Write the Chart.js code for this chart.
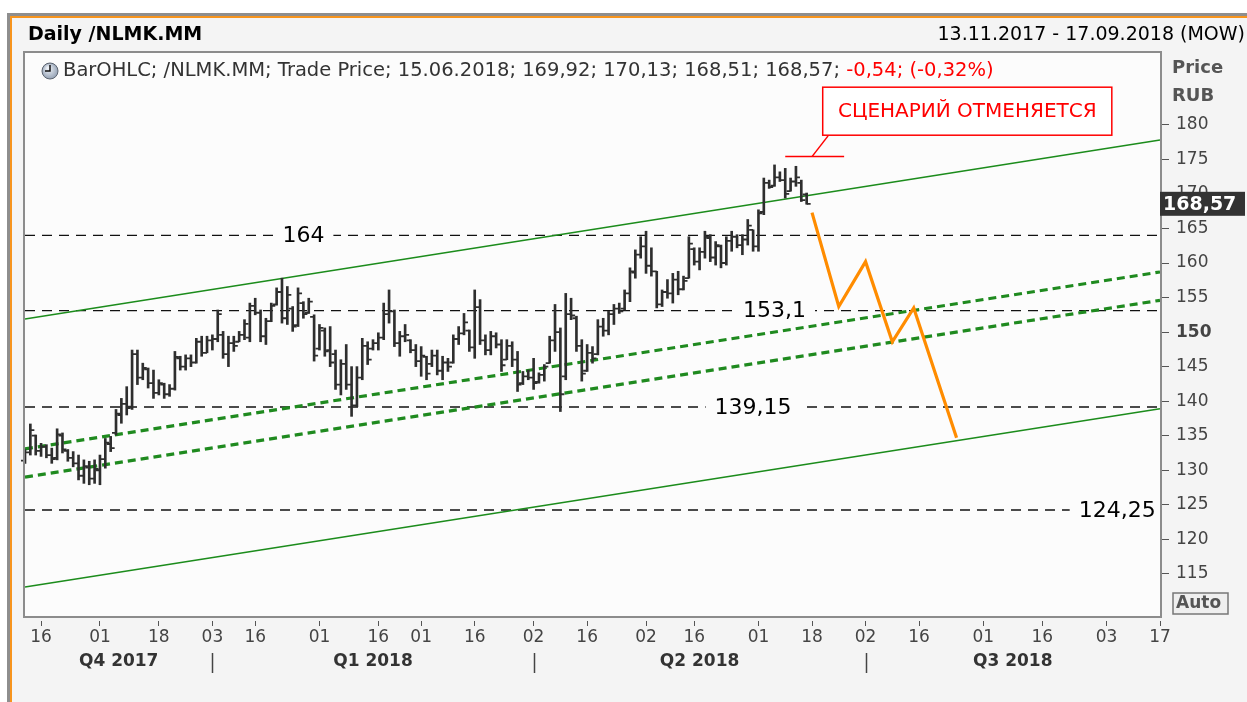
<!DOCTYPE html>
<html>
<head>
<meta charset="utf-8">
<title>Daily /NLMK.MM</title>
<script src="https://cdn.jsdelivr.net/npm/chart.js@4.4.1/dist/chart.umd.min.js"></script>
<style>
  html, body { margin: 0; padding: 0; background: #fff; }
  #wrap { width: 1247px; height: 702px; }
</style>
</head>
<body>
<div id="wrap"><canvas id="chart" width="1247" height="702"></canvas></div>
<script>
const FONT = "'DejaVu Sans', Verdana, sans-serif";

// MOEX trading days shown on the axis
const firstDay = "2017-11-13";
const lastDay = "2018-09-17";
const holidays = ["2018-01-01", "2018-01-02", "2018-01-08", "2018-02-23", "2018-03-08", "2018-05-01", "2018-05-09", "2018-06-12"];

const days = [];
for (let d = new Date(firstDay + "T00:00:00Z"); d <= new Date(lastDay + "T00:00:00Z"); d.setUTCDate(d.getUTCDate() + 1)) {
	const s = d.toISOString().slice(0, 10);
	const wd = d.getUTCDay();
	if (wd !== 0 && wd !== 6 && !holidays.includes(s)) days.push(s);
}

// daily bars from 13.11.2017 to 15.06.2018
const barOpen = [
	131.4, 132.6, 135.0, 132.8, 133.4, 132.2, 131.8, 135.0, 132.8, 131.8,
	131.0, 129.2, 130.4, 128.8, 130.0, 131.6, 133.8, 135.4, 138.0, 139.6,
	139.2, 146.8, 143.4, 144.6, 142.6, 141.2, 142.4, 141.0, 141.8, 146.2,
	145.0, 146.2, 145.6, 148.6, 147.0, 148.8, 149.0, 149.6, 146.8, 148.4,
	148.6, 149.6, 149.2, 153.8, 152.8, 149.4, 151.6, 154.0, 155.8, 152.0,
	153.4, 151.0, 154.2, 152.8, 152.2, 147.6, 150.2, 147.4, 146.8, 142.4,
	145.4, 142.4, 139.4, 143.4, 148.0, 147.6, 148.4, 149.2, 152.6, 153.0,
	148.4, 149.4, 148.8, 147.4, 145.8, 146.4, 145.4, 146.6, 144.4, 145.6,
	145.6, 149.0, 149.8, 150.2, 147.8, 153.6, 148.8, 147.4, 149.4, 148.2,
	146.0, 148.0, 146.0, 142.6, 143.6, 143.4, 142.8, 143.8, 145.5, 148.8,
	150.0, 143.6, 152.6, 152.0, 148.0, 144.4, 147.0, 146.8, 150.8, 150.2,
	152.6, 153.4, 153.4, 155.6, 158.6, 161.2, 162.4, 159.6, 158.8, 154.0,
	155.8, 155.6, 157.6, 156.2, 157.8, 162.0, 160.2, 161.6, 163.6, 160.8,
	162.4, 160.0, 163.2, 163.8, 162.6, 163.4, 164.8, 162.4, 167.4, 171.6,
	171.2, 172.4, 172.0, 170.4, 171.8, 171.6, 169.92
];
const barHigh = [
	133.0, 136.7, 135.1, 133.9, 133.7, 133.2, 136.0, 135.4, 133.0, 132.7,
	132.2, 131.5, 131.3, 131.5, 132.2, 134.6, 134.9, 138.8, 140.4, 142.1,
	147.4, 147.4, 145.5, 144.8, 144.5, 143.1, 142.6, 142.4, 147.2, 146.5,
	146.7, 146.7, 149.1, 149.4, 149.4, 149.6, 153.2, 150.1, 149.4, 149.4,
	150.1, 151.8, 154.2, 154.9, 153.2, 152.0, 154.2, 156.4, 157.8, 156.6,
	153.7, 156.4, 154.4, 154.9, 152.5, 151.1, 150.6, 150.8, 147.4, 146.0,
	148.2, 145.0, 145.0, 149.1, 148.6, 148.9, 149.9, 154.2, 156.1, 153.2,
	150.1, 151.1, 148.9, 148.2, 147.9, 146.5, 147.4, 147.4, 146.5, 146.2,
	149.6, 150.8, 152.7, 150.3, 156.1, 154.7, 149.6, 150.1, 149.9, 148.9,
	148.9, 148.6, 147.2, 144.3, 144.5, 146.2, 144.1, 145.3, 149.4, 154.0,
	150.6, 155.6, 154.9, 152.3, 148.9, 148.2, 147.9, 151.8, 152.0, 153.0,
	154.0, 154.2, 156.1, 159.3, 161.9, 163.8, 164.6, 162.2, 158.8, 156.1,
	157.6, 158.5, 158.8, 158.1, 163.8, 162.2, 162.2, 164.6, 164.1, 163.1,
	162.6, 163.8, 164.6, 164.1, 164.1, 166.3, 164.8, 167.7, 172.3, 172.0,
	174.2, 173.2, 173.7, 172.3, 174.0, 172.0, 170.13
];
const barLow = [
	131.0, 132.2, 132.2, 132.0, 131.8, 131.0, 131.5, 132.5, 131.3, 130.5,
	128.6, 128.1, 127.9, 128.1, 127.9, 130.3, 132.7, 135.1, 136.8, 138.0,
	138.8, 142.4, 143.1, 141.9, 140.4, 140.9, 140.4, 140.7, 141.6, 144.5,
	144.5, 145.0, 145.5, 146.5, 147.0, 147.4, 148.6, 146.2, 145.0, 147.2,
	148.6, 148.9, 148.6, 152.5, 148.6, 148.2, 151.5, 153.9, 151.3, 151.1,
	150.1, 150.8, 152.0, 152.7, 145.8, 147.4, 146.5, 145.0, 141.7, 140.9,
	141.7, 137.8, 139.2, 143.1, 145.3, 147.4, 147.4, 148.9, 151.3, 147.9,
	146.5, 148.6, 147.0, 145.0, 143.6, 143.1, 145.0, 143.8, 143.1, 144.3,
	145.5, 148.2, 149.6, 147.2, 146.2, 148.2, 146.7, 146.7, 147.7, 144.3,
	146.0, 145.0, 141.4, 142.4, 143.1, 141.7, 142.6, 142.9, 145.5, 147.2,
	138.5, 143.1, 151.8, 147.2, 142.9, 144.3, 145.5, 146.7, 149.4, 149.6,
	151.1, 152.7, 153.2, 154.4, 157.8, 160.7, 158.5, 158.1, 153.5, 153.7,
	154.9, 154.2, 155.4, 156.1, 157.8, 159.7, 159.0, 160.7, 160.2, 159.7,
	159.3, 159.7, 161.7, 162.2, 161.2, 162.6, 161.7, 161.7, 167.0, 170.8,
	171.1, 171.8, 169.4, 170.4, 171.1, 168.9, 168.51
];
const barClose = [
	132.6, 135.8, 132.8, 133.4, 132.2, 131.6, 135.2, 133.0, 131.8, 131.0,
	129.2, 130.6, 128.8, 130.2, 131.6, 134.0, 133.2, 138.2, 139.6, 139.0,
	146.8, 143.4, 144.8, 142.6, 141.2, 142.6, 141.0, 141.8, 146.4, 145.0,
	146.2, 145.6, 148.6, 147.0, 148.8, 149.0, 152.6, 146.8, 148.4, 148.0,
	149.6, 151.2, 153.8, 152.8, 149.4, 151.6, 153.8, 155.8, 152.0, 155.4,
	150.8, 155.6, 152.6, 154.4, 146.6, 150.6, 147.2, 145.6, 142.4, 145.4,
	142.4, 139.4, 143.4, 148.0, 146.0, 148.4, 149.2, 152.6, 153.0, 148.4,
	149.4, 149.6, 147.4, 145.8, 146.6, 144.0, 146.6, 144.4, 145.6, 145.0,
	149.0, 149.8, 151.4, 147.8, 153.6, 148.8, 147.4, 149.4, 148.2, 145.2,
	148.0, 146.0, 142.4, 143.6, 143.4, 142.6, 143.8, 145.0, 148.8, 150.0,
	141.0, 152.6, 152.4, 148.0, 144.0, 147.0, 146.2, 150.8, 150.2, 152.6,
	153.4, 153.0, 155.6, 158.8, 161.2, 162.4, 159.6, 158.8, 154.0, 155.8,
	155.6, 157.6, 156.2, 157.4, 162.8, 160.2, 161.6, 163.8, 160.8, 162.6,
	160.0, 163.2, 163.8, 162.6, 163.4, 165.4, 162.4, 167.2, 171.6, 171.0,
	172.4, 172.0, 170.0, 171.8, 172.4, 169.11, 168.57
];

// drawn lines: values at the first and the last day of the axis
const channelUpper = [151.9, 177.8];
const channelLower = [113.1, 138.9];
const innerUpper = [133.1, 158.7];
const innerLower = [129.0, 154.6];

const levels = [164, 153.1, 139.15, 124.25];
const levelText = ["164", "153,1", "139,15", "124,25"];
const levelLabelDay = ["2018-01-29", "2018-06-06", "2018-05-31", "2018-09-05"];

// forecast path
const scenarioDays = ["2018-06-18", "2018-06-25", "2018-07-02", "2018-07-09", "2018-07-13", "2018-07-25"];
const scenarioValues = [167.3, 153.7, 160.2, 148.6, 153.5, 134.7];

// "scenario cancelled" mark
const cancelLevel = 175.4;
const cancelDays = ["2018-06-08", "2018-06-26"];
const cancelLinkDays = ["2018-06-18", "2018-06-21"];
const cancelLinkValues = [175.4, 178.4];
const cancelText = "СЦЕНАРИЙ ОТМЕНЯЕТСЯ";

const yTicks = [115, 120, 125, 130, 135, 140, 145, 150, 155, 160, 165, 170, 175, 180];
const yMin = 108.9, yMax = 190.4;

const quarters = [
	{ label: "Q4 2017", from: "2017-11-13", to: "2018-01-03" },
	{ label: "Q1 2018", from: "2018-01-03", to: "2018-04-02" },
	{ label: "Q2 2018", from: "2018-04-02", to: "2018-07-02" },
	{ label: "Q3 2018", from: "2018-07-02", to: "2018-09-17" },
];

// ticks on the first trading day on/after the 1st and the 16th
const xTickIdx = [];
days.forEach((s, i) => {
	if (i === 0) return;
	const prev = days[i - 1];
	const d = +s.slice(8), pd = +prev.slice(8);
	if (s.slice(5, 7) !== prev.slice(5, 7) || (d >= 16 && pd < 16)) xTickIdx.push(i);
});

const fmt = (v) => v.toFixed(2).replace(".", ",");
const last = barClose.length - 1;
const change = barClose[last] - barClose[last - 1];
const changePct = change / barClose[last - 1] * 100;
const lastDate = days[last].split("-").reverse().join(".");

const line = (a, b) => [{ x: days[0], y: a }, { x: days[days.length - 1], y: b }];
const flat = (v) => line(v, v);

const frame = {
	id: "frame",
	beforeDraw(chart) {
		const { ctx, width, height, chartArea: a } = chart;
		ctx.save();
		ctx.fillStyle = "#ffffff";
		ctx.fillRect(0, 0, width, height);
		ctx.fillStyle = "#8e8e8e";
		ctx.fillRect(7, 13, width, 3);
		ctx.fillRect(7, 13, 3, height);
		ctx.fillStyle = "#f7941d";
		ctx.fillRect(10, 16, width, 2);
		ctx.fillRect(10, 16, 2, height);
		ctx.fillStyle = "#f4f4f4";
		ctx.fillRect(12, 18, width, height);
		ctx.fillStyle = "#fcfcfc";
		ctx.fillRect(a.left, a.top, a.right - a.left, a.bottom - a.top);

		// header
		ctx.fillStyle = "#000";
		ctx.textBaseline = "middle";
		ctx.font = "bold 19px " + FONT;
		ctx.textAlign = "left";
		ctx.fillText("Daily /NLMK.MM", 28, 35);
		ctx.font = "19px " + FONT;
		ctx.textAlign = "right";
		ctx.fillText("13.11.2017 - 17.09.2018 (MOW)", 1245, 35);

		// axis title
		ctx.fillStyle = "#555";
		ctx.font = "bold 18px " + FONT;
		ctx.textAlign = "left";
		ctx.fillText("Price", 1172, 68);
		ctx.fillText("RUB", 1172, 96);
		ctx.restore();
	},
	afterDatasetsDraw(chart) {
		const { ctx, scales: { x, y }, chartArea: a } = chart;
		const xi = (s) => x.getPixelForValue(days.indexOf(s));
		ctx.save();

		// level labels (kept inside the plot box)
		ctx.save();
		ctx.beginPath();
		ctx.rect(a.left, a.top, a.right - a.left, a.bottom - a.top);
		ctx.clip();
		ctx.font = "22px " + FONT;
		ctx.textAlign = "center";
		ctx.textBaseline = "middle";
		levels.forEach((v, k) => {
			const cx = xi(levelLabelDay[k]);
			const cy = y.getPixelForValue(v);
			const w = ctx.measureText(levelText[k]).width + 18;
			ctx.fillStyle = "#fcfcfc";
			ctx.fillRect(cx - w / 2, cy - 12, w, 24);
			ctx.fillStyle = "#000";
			ctx.fillText(levelText[k], cx, cy + 1);
		});
		ctx.restore();

		// open / close ticks
		ctx.strokeStyle = "#2e2e2e";
		ctx.lineWidth = 1.8;
		ctx.beginPath();
		for (let i = 0; i < barOpen.length; i++) {
			const px = x.getPixelForValue(i);
			const yo = y.getPixelForValue(barOpen[i]);
			const yc = y.getPixelForValue(barClose[i]);
			ctx.moveTo(px - 4, yo);
			ctx.lineTo(px, yo);
			ctx.moveTo(px, yc);
			ctx.lineTo(px + 4, yc);
		}
		ctx.stroke();

		// plot box border
		ctx.strokeStyle = "#8c8c8c";
		ctx.lineWidth = 2;
		ctx.strokeRect(a.left - 1, a.top - 1, a.right - a.left + 2, a.bottom - a.top + 2);

		// cancelled-scenario box
		const bx1 = xi("2018-06-20"), bx2 = xi("2018-09-04");
		const by1 = y.getPixelForValue(185.45), by2 = y.getPixelForValue(178.5);
		ctx.fillStyle = "#ffffff";
		ctx.fillRect(bx1, by1, bx2 - bx1, by2 - by1);
		ctx.strokeStyle = "#ff0000";
		ctx.lineWidth = 1.5;
		ctx.strokeRect(bx1, by1, bx2 - bx1, by2 - by1);
		ctx.fillStyle = "#ff0000";
		ctx.font = "20px " + FONT;
		ctx.textAlign = "center";
		ctx.textBaseline = "middle";
		ctx.fillText(cancelText, (bx1 + bx2) / 2, (by1 + by2) / 2 + 1);

		// legend line
		const lx = 42, ly = 71;
		const g = ctx.createRadialGradient(lx + 6, ly - 3, 1, lx + 8, ly, 9);
		g.addColorStop(0, "#eef2f8");
		g.addColorStop(1, "#8c9aae");
		ctx.fillStyle = g;
		ctx.beginPath();
		ctx.arc(lx + 8, ly, 8, 0, Math.PI * 2);
		ctx.fill();
		ctx.strokeStyle = "#5c6470";
		ctx.lineWidth = 1;
		ctx.stroke();
		ctx.strokeStyle = "#111";
		ctx.lineWidth = 1.5;
		ctx.beginPath();
		ctx.moveTo(lx + 8, ly - 6);
		ctx.lineTo(lx + 8, ly);
		ctx.lineTo(lx + 3, ly);
		ctx.stroke();

		const part1 = "BarOHLC; /NLMK.MM; Trade Price; " + lastDate + "; " +
			[barOpen[last], barHigh[last], barLow[last], barClose[last]].map(fmt).join("; ") + "; ";
		const part2 = fmt(change) + "; (" + fmt(changePct) + "%)";
		ctx.font = "19.5px " + FONT;
		ctx.textAlign = "left";
		ctx.fillStyle = "#333";
		ctx.fillText(part1, 63, ly);
		ctx.fillStyle = "#ff0000";
		ctx.fillText(part2, 63 + ctx.measureText(part1).width, ly);

		ctx.restore();
	},
	afterDraw(chart) {
		const { ctx, scales: { x, y }, chartArea: a } = chart;
		const xi = (s) => x.getPixelForValue(days.indexOf(s));
		ctx.save();

		// last price box
		const py = y.getPixelForValue(barClose[last]);
		ctx.fillStyle = "#333";
		ctx.fillRect(a.right, py - 12, 85, 24);
		ctx.fillStyle = "#fff";
		ctx.font = "bold 19px " + FONT;
		ctx.textAlign = "left";
		ctx.textBaseline = "middle";
		ctx.fillText(fmt(barClose[last]), a.right + 3, py + 1);

		// Auto button
		ctx.fillStyle = "#efefef";
		ctx.fillRect(1173, 593, 55, 21);
		ctx.strokeStyle = "#777";
		ctx.lineWidth = 1.5;
		ctx.strokeRect(1173, 593, 55, 21);
		ctx.fillStyle = "#555";
		ctx.font = "bold 17px " + FONT;
		ctx.fillText("Auto", 1176, 604);

		// quarters
		ctx.fillStyle = "#333";
		ctx.font = "bold 17px " + FONT;
		ctx.textAlign = "center";
		quarters.forEach((q) => {
			const x1 = xi(q.from), x2 = xi(q.to);
			ctx.fillText(q.label, (x1 + x2) / 2, 662);
		});
		ctx.strokeStyle = "#444";
		ctx.lineWidth = 1.5;
		ctx.beginPath();
		quarters.slice(1).forEach((q) => {
			const px = Math.round(xi(q.from)) + 0.5;
			ctx.moveTo(px, 653);
			ctx.lineTo(px, 673);
		});
		ctx.stroke();
		ctx.restore();
	},
};

const lineSet = (data, color, width, dash) => ({
	type: "line",
	data,
	borderColor: color,
	borderWidth: width,
	borderDash: dash || [],
	pointRadius: 0,
	tension: 0,
	order: 1,
});

new Chart(document.getElementById("chart"), {
	type: "bar",
	data: {
		labels: days,
		datasets: [
			{
				type: "bar",
				data: barLow.map((l, i) => [l, barHigh[i]]),
				backgroundColor: "#2e2e2e",
				borderWidth: 0,
				barThickness: 2,
				order: 0,
			},
			lineSet(line(channelUpper[0], channelUpper[1]), "#1c8c1c", 1.5),
			lineSet(line(channelLower[0], channelLower[1]), "#1c8c1c", 1.5),
			lineSet(line(innerUpper[0], innerUpper[1]), "#1f8a1f", 3.2, [8, 5]),
			lineSet(line(innerLower[0], innerLower[1]), "#1f8a1f", 3.2, [8, 5]),
			...levels.map((v) => lineSet(flat(v), "#111", 1.4, [10, 7])),
			{ ...lineSet(scenarioDays.map((d, i) => ({ x: d, y: scenarioValues[i] })), "#ff8c00", 3.2), order: -1 },
			lineSet(cancelDays.map((d) => ({ x: d, y: cancelLevel })), "#ff0000", 1.5),
			lineSet(cancelLinkDays.map((d, i) => ({ x: d, y: cancelLinkValues[i] })), "#ff0000", 1.5),
		],
	},
	options: {
		responsive: false,
		animation: false,
		events: [],
		layout: { padding: { left: 25, top: 53, right: 0, bottom: 0 } },
		plugins: { legend: { display: false }, tooltip: { enabled: false } },
		scales: {
			x: {
				type: "category",
				offset: false,
				afterBuildTicks: (s) => { s.ticks = xTickIdx.map((i) => ({ value: i })); },
				afterFit: (s) => { s.height = 86; },
				grid: { offset: false, drawOnChartArea: false, drawTicks: true, tickLength: 10, tickBorderDash: [0, 5, 5, 0], color: "#555" },
				border: { display: false },
				ticks: {
					autoSkip: false,
					maxRotation: 0,
					padding: 1,
					color: "#444",
					font: { family: FONT, size: 17 },
					callback: (v) => days[v].slice(8),
				},
			},
			y: {
				position: "right",
				min: yMin,
				max: yMax,
				afterBuildTicks: (s) => { s.ticks = yTicks.map((v) => ({ value: v })); },
				afterFit: (s) => { s.width = 87; },
				grid: { drawOnChartArea: false, drawTicks: true, tickLength: 9, color: "#555" },
				border: { display: false },
				ticks: {
					padding: 7,
					color: "#444",
					font: (c) => ({ family: FONT, size: 17, weight: c.tick && c.tick.value === 150 ? "bold" : "normal" }),
				},
			},
		},
	},
	plugins: [frame],
});
</script>
</body>
</html>
